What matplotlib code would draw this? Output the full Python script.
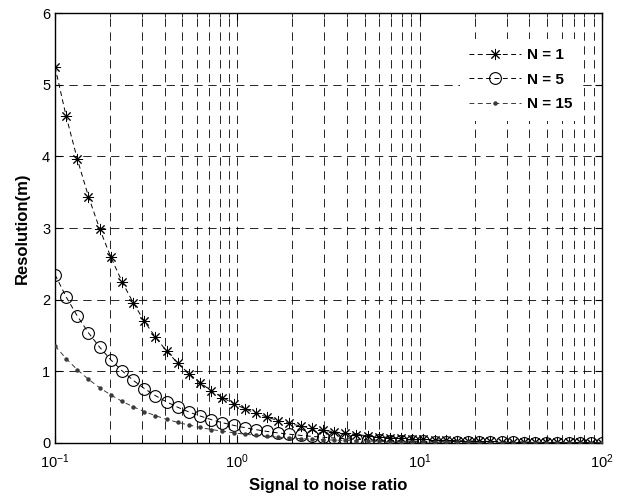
import numpy as np
import matplotlib
matplotlib.use("Agg")
import matplotlib.pyplot as plt
from matplotlib.ticker import LogLocator, NullFormatter

plt.rcParams['font.family'] = ['Liberation Sans', 'DejaVu Sans']
plt.rcParams['mathtext.fontset'] = 'custom'
plt.rcParams['mathtext.rm'] = 'Liberation Sans'
plt.rcParams['mathtext.it'] = 'Liberation Sans'
plt.rcParams['lines.scale_dashes'] = False

# Signal to noise ratio samples (log spaced, 0.1 .. 100)
snr = [0.1, 0.1151, 0.1326, 0.1526, 0.1758, 0.2024, 0.2330, 0.2683, 0.3089, 0.3557,
       0.4095, 0.4715, 0.5429, 0.6251, 0.7197, 0.8286, 0.9541, 1.0985, 1.2649, 1.4564,
       1.6768, 1.9307, 2.2230, 2.5595, 2.9471, 3.3932, 3.9069, 4.4984, 5.1795, 5.9636,
       6.8665, 7.9060, 9.1030, 10.481, 12.068, 13.895, 15.999, 18.421, 21.210, 24.421,
       28.118, 32.375, 37.276, 42.919, 49.417, 56.899, 65.513, 75.431, 86.851, 100.0]

# Resolution (m)
res_n1 = [5.25, 4.560, 3.960, 3.439, 2.987, 2.594, 2.253, 1.957, 1.700, 1.476,
          1.282, 1.113, 0.967, 0.840, 0.729, 0.634, 0.550, 0.478, 0.415, 0.360,
          0.313, 0.272, 0.236, 0.205, 0.178, 0.155, 0.134, 0.117, 0.101, 0.088,
          0.076, 0.066, 0.058, 0.050, 0.044, 0.038, 0.033, 0.029, 0.025, 0.021,
          0.019, 0.016, 0.014, 0.012, 0.011, 0.009, 0.008, 0.007, 0.006, 0.005]
res_n5 = [2.348, 2.039, 1.771, 1.538, 1.336, 1.160, 1.008, 0.875, 0.760, 0.660,
          0.573, 0.498, 0.432, 0.376, 0.326, 0.283, 0.246, 0.214, 0.186, 0.161,
          0.140, 0.122, 0.106, 0.092, 0.080, 0.069, 0.060, 0.052, 0.045, 0.039,
          0.034, 0.030, 0.026, 0.022, 0.020, 0.017, 0.015, 0.013, 0.011, 0.010,
          0.008, 0.007, 0.006, 0.005, 0.005, 0.004, 0.004, 0.003, 0.003, 0.002]
res_n15 = [1.356, 1.177, 1.022, 0.888, 0.771, 0.670, 0.582, 0.505, 0.439, 0.381,
           0.331, 0.287, 0.250, 0.217, 0.188, 0.164, 0.142, 0.123, 0.107, 0.093,
           0.081, 0.070, 0.061, 0.053, 0.046, 0.040, 0.035, 0.030, 0.026, 0.023,
           0.020, 0.017, 0.015, 0.013, 0.011, 0.010, 0.009, 0.007, 0.006, 0.006,
           0.005, 0.004, 0.004, 0.003, 0.003, 0.002, 0.002, 0.002, 0.002, 0.001]

fig = plt.figure(figsize=(6.23, 4.97), dpi=100)
ax = fig.add_axes([0.0883, 0.1087, 0.878, 0.865])

dash = (0, (3.5, 2.5))
ax.plot(snr, res_n1, color='black', lw=0.7, linestyle=dash, marker=(8, 2, 0),
        markersize=8, markeredgewidth=0.7, label='N = 1', zorder=3)
ax.plot(snr, res_n5, color='black', lw=0.7, linestyle=dash, marker='o',
        markersize=8.5, markerfacecolor='none', markeredgewidth=0.8,
        label='N = 5', zorder=3)
ax.plot(snr, res_n15, color='#3a3a3a', lw=0.7, linestyle=dash, marker='o',
        markersize=3.2, markeredgewidth=0, label='N = 15', zorder=3)

ax.set_xscale('log')
ax.set_xlim(0.1, 100)
ax.set_ylim(0, 6)
ax.set_yticks([0, 1, 2, 3, 4, 5, 6])
ax.xaxis.set_major_locator(LogLocator(base=10, numticks=10))
ax.xaxis.set_minor_locator(LogLocator(base=10, subs=np.arange(2, 10), numticks=20))
ax.xaxis.set_minor_formatter(NullFormatter())

grid_style = dict(color='black', linestyle=(0, (6, 4)), linewidth=0.6)
ax.grid(True, which='major', axis='both', **grid_style)
ax.grid(True, which='minor', axis='x', **grid_style)
ax.set_axisbelow(True)

ax.tick_params(which='both', direction='in', top=True, right=True, labelsize=10.5)
ax.tick_params(which='major', length=5)
ax.tick_params(which='minor', length=3)
ax.tick_params(axis='x', pad=7)
for s in ax.spines.values():
    s.set_linewidth(1.0)

ax.set_xlabel('Signal to noise ratio', fontsize=12, fontweight='bold', labelpad=5)
ax.set_ylabel('Resolution(m)', fontsize=12, fontweight='bold', labelpad=9)

leg = ax.legend(loc='upper right', bbox_to_anchor=(0.963, 0.94), frameon=True,
                fancybox=False, edgecolor='none', facecolor='white', framealpha=1,
                handlelength=3.4, handletextpad=0.4, prop={'weight': 'bold', 'size': 11},
                borderpad=0.6, labelspacing=0.7, borderaxespad=0)

fig.savefig('out.png', dpi=100)
